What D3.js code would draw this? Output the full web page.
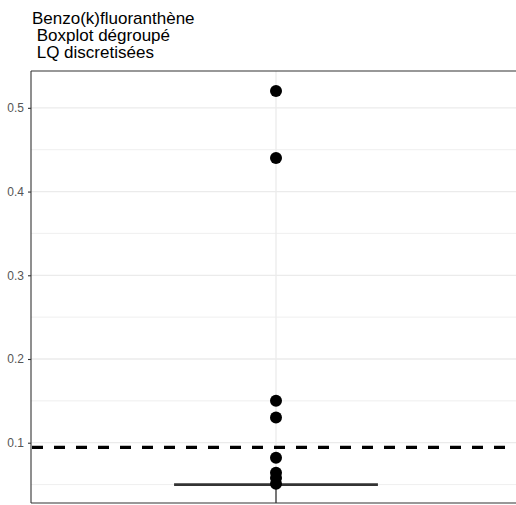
<!DOCTYPE html>
<html>
<head>
<meta charset="utf-8">
<script src="https://cdn.jsdelivr.net/npm/d3@7"></script>
<style>
  html, body { margin: 0; padding: 0; background: #fff; overflow: hidden; }
  svg { display: block; }
</style>
</head>
<body>
<script>
// ---- data ----
const titleLines = ["Benzo(k)fluoranthène", " Boxplot dégroupé", " LQ discretisées"];
const categories = ["Benzo(k)fluoranthène"];
const pointValues = [0.52, 0.44, 0.15, 0.13, 0.082, 0.064, 0.058, 0.051];
const boxStats = [{cat: "Benzo(k)fluoranthène", lower: 0.015, q1: 0.05, median: 0.05, q3: 0.05, upper: 0.05}];
const lqValue = [0.0945];
const majorTicks = [0.1, 0.2, 0.3, 0.4, 0.5];
const minorTicks = [0.05, 0.15, 0.25, 0.35, 0.45];
const yDomain = [0.028, 0.544];

// ---- layout ----
const W = 516, H = 505;
const panel = {left: 31, top: 71, right: 521, bottom: 503};

const svg = d3.select("body").append("svg").attr("width", W).attr("height", H);

const y = d3.scaleLinear().domain(yDomain).range([panel.bottom, panel.top]);
const x = d3.scaleBand().domain(categories).range([panel.left, panel.right]);
const cx = c => x(c) + x.bandwidth() / 2;
const boxHalf = x.bandwidth() * 0.208;

svg.append("defs").append("clipPath").attr("id", "clip")
  .append("rect").attr("x", panel.left).attr("y", panel.top)
  .attr("width", panel.right - panel.left).attr("height", panel.bottom - panel.top);

const g = svg.append("g").attr("clip-path", "url(#clip)");

// minor grid
g.selectAll("line.minor").data(minorTicks).join("line")
  .attr("x1", panel.left).attr("x2", panel.right)
  .attr("y1", d => y(d)).attr("y2", d => y(d))
  .attr("stroke", "#ebebeb").attr("stroke-width", 0.8);
// major grid
g.selectAll("line.major").data(majorTicks).join("line")
  .attr("x1", panel.left).attr("x2", panel.right)
  .attr("y1", d => y(d)).attr("y2", d => y(d))
  .attr("stroke", "#ebebeb").attr("stroke-width", 1.3);
g.selectAll("line.vmajor").data(categories).join("line")
  .attr("x1", d => cx(d)).attr("x2", d => cx(d))
  .attr("y1", panel.top).attr("y2", panel.bottom)
  .attr("stroke", "#ebebeb").attr("stroke-width", 1.3);

// boxplot
boxStats.forEach(b => {
  const c = cx(b.cat);
  g.append("line").attr("x1", c).attr("x2", c)
    .attr("y1", y(b.q1)).attr("y2", y(b.lower))
    .attr("stroke", "#333").attr("stroke-width", 1.3);
  g.append("line").attr("x1", c).attr("x2", c)
    .attr("y1", y(b.q3)).attr("y2", y(b.upper))
    .attr("stroke", "#333").attr("stroke-width", 1.3);
  g.append("rect").attr("x", c - boxHalf).attr("width", boxHalf * 2)
    .attr("y", y(b.q3)).attr("height", Math.max(0, y(b.q1) - y(b.q3)))
    .attr("fill", "#fff").attr("stroke", "#333").attr("stroke-width", 1.3);
  g.append("line").attr("x1", c - boxHalf).attr("x2", c + boxHalf)
    .attr("y1", y(b.median)).attr("y2", y(b.median))
    .attr("stroke", "#333").attr("stroke-width", 2.6);
});

// points
g.selectAll("circle.pt").data(pointValues).join("circle")
  .attr("cx", cx(categories[0])).attr("cy", d => y(d)).attr("r", 6)
  .attr("fill", "#000");

// LQ dashed line
g.selectAll("line.lq").data(lqValue).join("line")
  .attr("x1", panel.left).attr("x2", panel.right)
  .attr("y1", d => y(d)).attr("y2", d => y(d))
  .attr("stroke", "#000").attr("stroke-width", 3.3)
  .attr("stroke-dasharray", "11,11").attr("stroke-dashoffset", -1);

// panel border (left, top, bottom; right edge lies outside the picture)
const border = svg.append("g").attr("stroke", "#333").attr("stroke-width", 1.1).attr("fill", "none");
border.append("line").attr("x1", panel.left).attr("x2", panel.left).attr("y1", panel.top).attr("y2", panel.bottom);
border.append("line").attr("x1", panel.left).attr("x2", W).attr("y1", panel.top).attr("y2", panel.top);
border.append("line").attr("x1", panel.left).attr("x2", W).attr("y1", panel.bottom).attr("y2", panel.bottom);

// y axis
const yAxis = d3.axisLeft(y).tickValues(majorTicks).tickSize(3).tickPadding(4)
  .tickFormat(d3.format(".1f"));
const ax = svg.append("g").attr("transform", `translate(${panel.left},0)`).call(yAxis);
ax.select(".domain").remove();
ax.selectAll(".tick line").attr("stroke", "#333").attr("stroke-width", 1.1);
ax.selectAll(".tick text").attr("fill", "#555")
  .style("font-family", "'Liberation Sans', Arial, sans-serif").style("font-size", "12px");

// title
svg.append("text").attr("x", 32).attr("y", 24)
  .style("font-family", "'Liberation Sans', Arial, sans-serif").style("font-size", "17px")
  .attr("fill", "#000")
  .selectAll("tspan").data(titleLines).join("tspan")
  .attr("x", 32).attr("dy", (d, i) => i === 0 ? 0 : 16.8)
  .style("white-space", "pre")
  .text(d => d);
</script>
</body>
</html>
